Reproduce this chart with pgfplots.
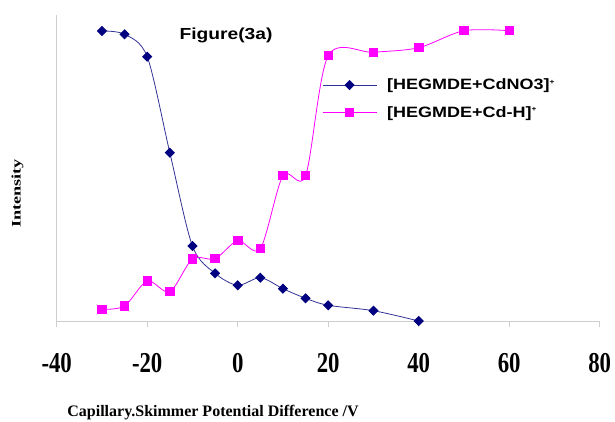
\documentclass[border=0pt]{standalone}
\usepackage{pgfplots}
\pgfplotsset{compat=1.18}
\usepackage{graphicx}
\usepackage{fontspec}
\setmainfont{Liberation Serif}
\newfontfamily\legfont[FakeStretch=1.2]{Liberation Sans}
\definecolor{navyc}{RGB}{0,0,128}
\definecolor{navyl}{RGB}{50,50,150}
\definecolor{pinkc}{RGB}{255,0,255}
\definecolor{axgrey}{RGB}{205,205,205}

\begin{document}
\begin{tikzpicture}
\useasboundingbox (-56.7pt,-100.3pt) rectangle (558.3pt,321.7pt);
\begin{axis}[
  at={(0pt,0pt)}, anchor=south west,
  scale only axis, width=543pt, height=306.7pt,
  xmin=-40, xmax=80, ymin=0, ymax=306.7,
  axis x line=bottom, axis y line=left,
  axis line style={axgrey, line width=0.6pt, -},
  ytick=\empty,
  xtick={-40,-20,0,20,40,60,80},
  xticklabels={\scalebox{0.95}[1.2]{-40},\scalebox{0.95}[1.2]{-20},\scalebox{0.95}[1.2]{0},\scalebox{0.95}[1.2]{20},\scalebox{0.95}[1.2]{40},\scalebox{0.95}[1.2]{60},\scalebox{0.95}[1.2]{80}},
  tick align=outside, major tick length=5pt,
  tick style={axgrey, line width=0.6pt},
  xticklabel style={font=\bfseries\fontsize{24}{24}\selectfont, inner sep=0pt, anchor=north, yshift=-26pt},
  clip=false,
  legend style={at={(axis description cs:0.4886,0.727)}, anchor=west, draw=none, fill=none,
    font=\legfont\bfseries\fontsize{15}{15}\selectfont, inner sep=0pt,
    row sep=15pt, column sep=10pt, nodes={inner sep=0pt}, cells={anchor=west}},
  legend image code/.code={\draw[#1, mark repeat=2, mark phase=2] plot coordinates {(0pt,0pt)(27pt,0pt)(54pt,0pt)};},
]
\addplot[navyl, line width=0.8pt, smooth, mark=square*, mark size=3.2pt,
  mark options={rotate=45, fill=navyc, draw=navyc, solid}] coordinates {
  (-30,290.7)(-25,287.4)(-20,265)(-15,169)(-10,75.7)(-5,48.4)(0,36.4)(5,44)(10,33)(15,23.4)(20,16.4)(30,11)(40,0.7)};
\addlegendentry{[HEGMDE+CdNO3]\textsuperscript{\scriptsize +}}
\addplot[pinkc, line width=0.8pt, smooth, mark=square*, mark size=4.2pt,
  mark options={fill=pinkc, draw=pinkc, solid}] coordinates {
  (-30,12.4)(-25,15.7)(-20,40.7)(-15,30)(-10,62.7)(-5,63)(0,81)(5,73)(10,146)(15,146)(20,266)(30,269.4)(40,274)(50,291)(60,291)};
\addlegendentry{[HEGMDE+Cd-H]\textsuperscript{\scriptsize +}}
\node[font=\legfont\bfseries\fontsize{16}{16}\selectfont] at (axis description cs:0.3118,0.9348) {Figure(3a)};
\node[font=\bfseries\fontsize{16}{16}\selectfont] at (axis description cs:0.2878,-0.2977) {Capillary.Skimmer Potential Difference /V};
\node[rotate=90] at (axis description cs:-0.0722,0.418) {\scalebox{1.4}[1]{\bfseries\fontsize{13}{13}\selectfont Intensity}};
\end{axis}
\end{tikzpicture}
\end{document}
